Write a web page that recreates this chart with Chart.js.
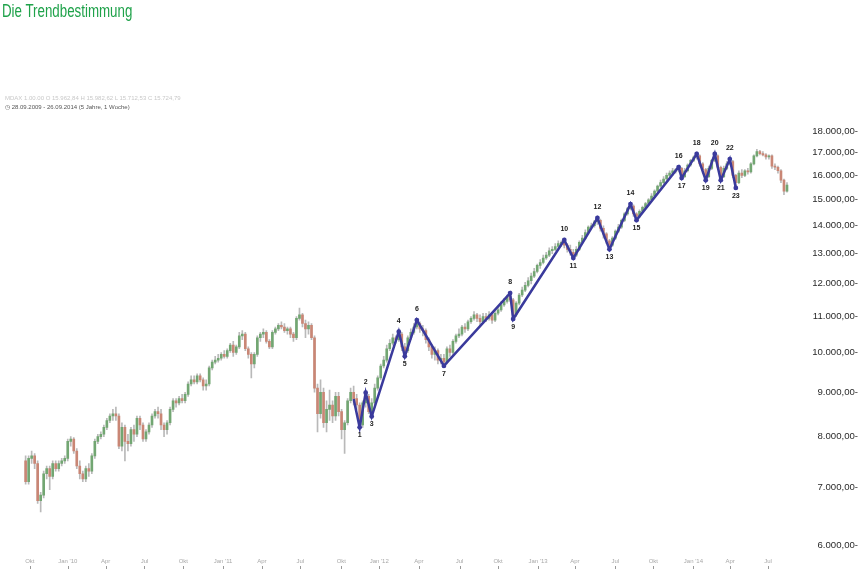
<!DOCTYPE html>
<html lang="de">
<head>
<meta charset="utf-8">
<title>Die Trendbestimmung</title>
<script src="https://cdn.jsdelivr.net/npm/chart.js@4.4.1/dist/chart.umd.min.js"></script>
<style>
  html, body { margin: 0; padding: 0; background: #fff; }
  #wrap { position: relative; width: 860px; height: 570px; overflow: hidden; }
  #chart { position: absolute; left: 0; top: 0; }
  .title { position: absolute; left: 2px; top: 0px; font-family: "Liberation Sans", Arial, sans-serif; font-size: 18px; line-height: 22px; color: #1fa24a; white-space: nowrap; transform: scaleX(0.74); transform-origin: 0 0; }
  .info1 { position: absolute; left: 5px; top: 95px; font-family: "Liberation Sans", Arial, sans-serif; font-size: 6px; color: #c8c8c8; white-space: nowrap; }
  .info2 { position: absolute; left: 5px; top: 103px; font-family: "Liberation Sans", Arial, sans-serif; font-size: 6px; color: #555; white-space: nowrap; }
</style>
</head>
<body>
<div id="wrap">
  <canvas id="chart" width="860" height="570"></canvas>
  <div class="title">Die Trendbestimmung</div>
  <div class="info1">MDAX 1.00.00 O 15.962,84 H 15.982,62 L 15.712,53 C 15.724,79</div>
  <div class="info2">&#9719; 28.09.2009 - 26.09.2014 (5 Jahre, 1 Woche)</div>
</div>
<script>
// weekly candles, 28.09.2009 onwards (week index = position)
const weekOpen = [
  7500,7100,7550,7600,7450,6750,6850,7250,7350,7200,
  7450,7350,7450,7500,7550,7900,7950,7700,7400,7250,
  7150,7350,7300,7600,7900,8000,8050,8200,8350,8450,
  8500,8450,7800,8200,7900,7850,8150,8050,8400,8250,
  7950,8100,8250,8450,8550,8500,8250,8150,8300,8600,
  8800,8750,8850,8800,8950,9200,9300,9250,9400,9300,
  9150,9200,9600,9750,9800,9850,9950,9900,10050,10200,
  10000,10150,10450,10500,10100,9950,9700,9950,10400,10500,
  10550,10300,10150,10550,10650,10750,10700,10600,10650,10500,
  10400,10950,11050,10800,10650,10750,10400,9100,8500,9000,
  8300,8600,8700,8450,8900,8550,8150,8300,8800,9000,
  8850,8700,8250,8750,8900,8550,8750,9100,9350,9650,
  9800,10100,10250,10400,10350,10500,10150,10050,10400,10550,
  10700,10800,10650,10600,10350,10150,9950,10050,9800,9850,
  9750,10100,10000,10300,10450,10500,10700,10650,10850,10950,
  11050,10950,10850,11000,10950,11050,10900,11100,11200,11350,
  11450,11600,11500,11050,11400,11650,11800,11950,12100,12250,
  12400,12600,12700,12850,12950,13100,13150,13250,13350,13400,
  13300,13150,13050,12950,13150,13400,13550,13750,13950,14000,
  14150,14200,13900,13700,13450,13300,13550,13800,13950,14200,
  14450,14650,14750,14450,14350,14550,14700,14850,15000,15150,
  15350,15550,15700,15850,16000,16100,16200,16250,16300,15950,
  16200,16450,16650,16800,16850,16500,16250,15950,16300,16650,
  16850,16350,15950,16300,16500,16600,16000,15700,16100,16000,
  16200,16150,16500,16850,17050,16950,16900,16800,16850,16400,
  16350,16200,15800,15350
];
const weekHigh = [
  7600,7600,7700,7650,7500,6900,7300,7400,7400,7500,
  7500,7500,7550,7600,7950,8000,7980,7750,7500,7300,
  7400,7450,7650,7950,8050,8100,8250,8400,8500,8600,
  8650,8500,8300,8250,8050,8200,8250,8450,8450,8300,
  8150,8300,8500,8600,8650,8600,8300,8350,8650,8850,
  8850,8900,8950,9000,9250,9400,9400,9450,9450,9350,
  9300,9650,9800,9900,9950,10000,10050,10100,10250,10300,
  10200,10550,10600,10550,10150,10000,10000,10450,10550,10650,
  10600,10350,10600,10700,10800,10850,10800,10700,10700,10550,
  11000,11250,11100,10900,10850,10800,10450,9200,9300,9100,
  8800,9050,8800,9000,9000,8600,8350,8850,9100,9150,
  8950,8750,8800,9000,8950,8850,9200,9400,9700,9900,
  10200,10350,10500,10450,10570,10550,10250,10450,10650,10800,
  10900,10850,10750,10650,10400,10200,10150,10100,9950,9950,
  10150,10200,10350,10500,10650,10750,10800,10900,11000,11150,
  11100,11050,11100,11100,11150,11100,11150,11300,11450,11550,
  11650,11710,11550,11450,11700,11900,12050,12200,12350,12500,
  12650,12800,12950,13050,13200,13250,13350,13450,13450,13480,
  13350,13300,13150,13250,13450,13650,13850,14000,14100,14200,
  14290,14250,14000,13750,13500,13600,13850,14050,14250,14500,
  14700,14830,14800,14500,14600,14750,14900,15050,15250,15400,
  15600,15800,15950,16100,16200,16300,16300,16360,16350,16300,
  16500,16700,16850,16940,16900,16550,16300,16400,16700,16940,
  16900,16400,16400,16600,16710,16650,16050,16200,16250,16250,
  16300,16550,16900,17150,17100,17050,16950,16900,16900,16500,
  16400,16250,15850,15700
];
const weekLow = [
  7050,7050,7450,7350,6700,6550,6800,7150,6950,7150,
  7300,7300,7400,7450,7500,7800,7650,7350,7150,7100,
  7100,7200,7250,7550,7850,7950,8000,8150,8300,8350,
  8350,7750,7700,7500,7700,7800,7900,8000,8150,7900,
  7900,8050,8200,8400,8400,8150,8000,8050,8250,8550,
  8650,8700,8750,8750,8900,9150,9200,9200,9250,9050,
  9050,9150,9550,9700,9750,9800,9850,9850,10000,9900,
  9950,10100,10350,10050,9850,9350,9600,9900,10300,10400,
  10250,10100,10100,10500,10600,10650,10550,10500,10400,10300,
  10350,10900,10700,10400,10500,10350,9000,8100,8400,8200,
  8100,8350,8300,8350,8450,7950,7650,8250,8750,8700,
  8600,8200,8200,8650,8500,8440,8700,9050,9300,9600,
  9750,10050,10200,10250,10300,10050,9900,10000,10350,10500,
  10650,10550,10450,10250,10050,9850,9800,9700,9700,9650,
  9700,9900,9950,10250,10400,10450,10550,10600,10800,10900,
  10850,10750,10800,10850,10900,10800,10850,11050,11150,11300,
  11400,11450,10930,11000,11350,11600,11750,11900,12000,12200,
  12350,12500,12650,12800,12900,13000,13100,13200,13250,13200,
  13050,12950,12850,12900,13100,13350,13500,13700,13900,13950,
  14050,13800,13550,13350,13150,13250,13500,13750,13900,14150,
  14400,14600,14350,14210,14300,14500,14650,14800,14950,15100,
  15300,15500,15650,15800,15950,16000,16100,16150,15890,15900,
  16150,16400,16600,16700,16400,16100,15800,15900,16250,16600,
  16250,15800,15900,16250,16450,15900,15480,15650,15900,15950,
  16050,16100,16450,16800,16900,16850,16700,16700,16300,16250,
  16100,15700,15200,15300
];
const weekClose = [
  7100,7550,7600,7450,6750,6850,7250,7350,7200,7450,
  7350,7450,7500,7550,7900,7950,7700,7400,7250,7150,
  7350,7300,7600,7900,8000,8050,8200,8350,8450,8500,
  8450,7800,8200,7900,7850,8150,8050,8400,8250,7950,
  8100,8250,8450,8550,8500,8250,8150,8300,8600,8800,
  8750,8850,8800,8950,9200,9300,9250,9400,9300,9150,
  9200,9600,9750,9800,9850,9950,9900,10050,10200,10000,
  10150,10450,10500,10100,9950,9700,9950,10400,10500,10550,
  10300,10150,10550,10650,10750,10700,10600,10650,10500,10400,
  10950,11050,10800,10650,10750,10400,9100,8500,9000,8300,
  8600,8700,8450,8900,8550,8150,8300,8800,9000,8850,
  8700,8250,8750,8900,8550,8750,9100,9350,9650,9800,
  10100,10250,10400,10350,10500,10150,10050,10400,10550,10700,
  10800,10650,10600,10350,10150,9950,10050,9800,9850,9750,
  10100,10000,10300,10450,10500,10700,10650,10850,10950,11050,
  10950,10850,11000,10950,11050,10900,11100,11200,11350,11450,
  11600,11500,11050,11400,11650,11800,11950,12100,12250,12400,
  12600,12700,12850,12950,13100,13150,13250,13350,13400,13300,
  13150,13050,12950,13150,13400,13550,13750,13950,14000,14150,
  14200,13900,13700,13450,13300,13550,13800,13950,14200,14450,
  14650,14750,14450,14350,14550,14700,14850,15000,15150,15350,
  15550,15700,15850,16000,16100,16200,16250,16300,15950,16200,
  16450,16650,16800,16850,16500,16250,15950,16300,16650,16850,
  16350,15950,16300,16500,16600,16000,15700,16100,16000,16200,
  16150,16500,16850,17050,16950,16900,16800,16850,16400,16350,
  16200,15800,15350,15600
];

// trend line (zigzag) through the turning points
const zigWeeks  = [109, 111, 113, 115, 124, 126, 130, 139, 161, 162, 179, 182, 190, 194, 201, 203, 217, 218, 223, 226, 229, 231, 234, 236];
const zigValues = [8840, 8200, 8990, 8440, 10570, 9900, 10900, 9650, 11710, 10930, 13480, 12850, 14290, 13150, 14830, 14210, 16360, 15890, 16940, 15800, 16940, 15800, 16710, 15480];
const zigLabels = ['', '1', '2', '3', '4', '5', '6', '7', '8', '9', '10', '11', '12', '13', '14', '15', '16', '17', '18', '19', '20', '21', '22', '23'];

// axis ticks
const xTickWeeks  = [1.4, 14, 26.6, 39.5, 52.4, 65.6, 78.5, 91.3, 104.9, 117.5, 130.7, 144.2, 157, 170.3, 182.5, 196, 208.6, 221.9, 234.1, 246.7];
const xTickLabels = ['Okt', "Jan '10", 'Apr', 'Jul', 'Okt', "Jan '11", 'Apr', 'Jul', 'Okt', "Jan '12", 'Apr', 'Jul', 'Okt', "Jan '13", 'Apr', 'Jul', 'Okt', "Jan '14", 'Apr', 'Jul'];
const yTicks = [6000, 7000, 8000, 9000, 10000, 11000, 12000, 13000, 14000, 15000, 16000, 17000, 18000];

const upColor = '#72a672';
const downColor = '#c98675';
const wickColor = '#b9b9b9';
const lineColor = '#3a3a9c';

const bodies = weekOpen.map((o, i) => ({ x: i, y: [o, weekClose[i]] }));
const wicks = weekLow.map((l, i) => ({ x: i, y: [l, weekHigh[i]] }));
const zigPoints = zigWeeks.map((w, i) => ({ x: w, y: zigValues[i] }));

function fmtDe(v) {
    const th = Math.floor(v / 1000);
    const rest = String(v % 1000).padStart(3, '0');
    return th + '.' + rest + ',00-';
}

const zigLabelPlugin = {
    id: 'zigLabels',
    afterDatasetsDraw(chart) {
        const meta = chart.getDatasetMeta(2);
        const ctx = chart.ctx;
        ctx.save();
        ctx.font = 'bold 7px "Liberation Sans", Arial, sans-serif';
        ctx.fillStyle = '#222';
        ctx.textAlign = 'center';
        ctx.textBaseline = 'middle';
        meta.data.forEach((pt, i) => {
            const txt = zigLabels[i];
            if (!txt) return;
            const n = parseInt(txt, 10);
            const dy = n % 2 === 0 ? -11 : 8;
            ctx.fillText(txt, pt.x, pt.y + dy);
        });
        ctx.restore();
    }
};

const xMarkPlugin = {
    id: 'xMarks',
    afterDraw(chart) {
        const xs = chart.scales.x;
        const ctx = chart.ctx;
        ctx.save();
        ctx.strokeStyle = '#999';
        ctx.lineWidth = 1;
        xTickWeeks.forEach(w => {
            const px = Math.round(xs.getPixelForValue(w)) + 0.5;
            ctx.beginPath();
            ctx.moveTo(px, 566);
            ctx.lineTo(px, 569);
            ctx.stroke();
        });
        ctx.restore();
    }
};

new Chart(document.getElementById('chart'), {
    data: {
        datasets: [
            {
                type: 'bar',
                data: wicks,
                backgroundColor: wickColor,
                barThickness: 1,
                grouped: false,
                order: 3
            },
            {
                type: 'bar',
                data: bodies,
                backgroundColor: (c) => {
                    const i = c.dataIndex;
                    return weekClose[i] >= weekOpen[i] ? upColor : downColor;
                },
                barThickness: 2,
                grouped: false,
                order: 2
            },
            {
                type: 'line',
                data: zigPoints,
                borderColor: lineColor,
                backgroundColor: lineColor,
                borderWidth: 2.5,
                pointRadius: (c) => c.dataIndex === 0 ? 0 : 2.4,
                pointBorderWidth: 0,
                tension: 0,
                order: 0
            }
        ]
    },
    options: {
        responsive: false,
        animation: false,
        devicePixelRatio: 1,
        layout: { padding: { top: 118, left: 1, right: 2, bottom: 0 } },
        plugins: {
            legend: { display: false },
            tooltip: { enabled: false }
        },
        scales: {
            x: {
                type: 'linear',
                min: -0.5,
                max: weekClose.length - 0.5,
                grid: { display: false, drawTicks: false },
                border: { display: false },
                afterBuildTicks: (scale) => {
                    scale.ticks = xTickWeeks.map(v => ({ value: v }));
                },
                afterFit: (scale) => { scale.height = 18; },
                ticks: {
                    autoSkip: false,
                    maxRotation: 0,
                    padding: 6,
                    color: '#a8a8a8',
                    font: { family: '"Liberation Sans", Arial, sans-serif', size: 6 },
                    callback: (v, i) => xTickLabels[i]
                }
            },
            y: {
                type: 'logarithmic',
                position: 'right',
                min: 5890,
                max: 18634,
                grid: { display: false, drawTicks: false },
                border: { display: false },
                afterBuildTicks: (scale) => {
                    scale.ticks = yTicks.map(v => ({ value: v }));
                },
                afterFit: (scale) => { scale.width = 49.4; },
                ticks: {
                    crossAlign: 'far',
                    padding: 3,
                    color: '#2a2a2a',
                    font: { family: '"Liberation Sans", Arial, sans-serif', size: 9.6 },
                    callback: (v) => fmtDe(v)
                }
            }
        }
    },
    plugins: [zigLabelPlugin, xMarkPlugin]
});
</script>
</body>
</html>
